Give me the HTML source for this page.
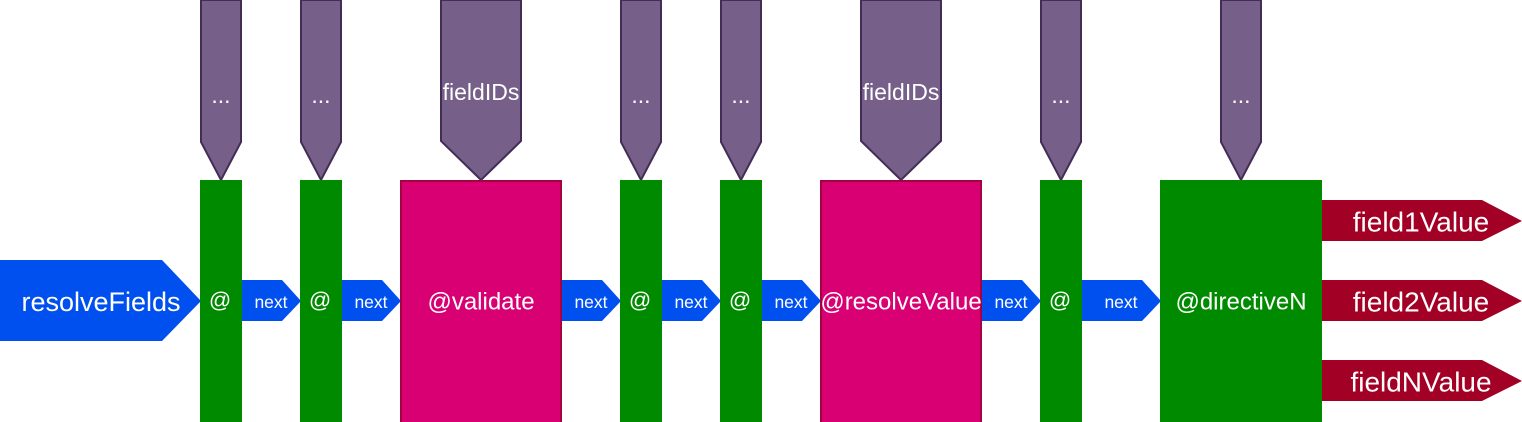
<!DOCTYPE html>
<html><head><style>body{margin:0;background:#fff}svg{display:block}text{font-family:"Liberation Sans",sans-serif;fill:#fff;text-anchor:middle;dominant-baseline:central}</style></head>
<body>
<svg width="1522" height="422" viewBox="0 0 1522 422" xmlns="http://www.w3.org/2000/svg">
<g fill="#76608a" stroke="#432d57" stroke-width="2">
<polygon points="201,0 241,0 241,142 221,180 201,142"/>
<polygon points="301,0 341,0 341,142 321,180 301,142"/>
<polygon points="621,0 661,0 661,142 641,180 621,142"/>
<polygon points="721,0 761,0 761,142 741,180 721,142"/>
<polygon points="1041,0 1081,0 1081,142 1061,180 1041,142"/>
<polygon points="1221,0 1261,0 1261,142 1241,180 1221,142"/>
<polygon points="441,0 521,0 521,141 481,180 441,141"/>
<polygon points="861,0 941,0 941,141 901,180 861,141"/>
</g>
<g font-size="23">
<text x="221" y="95">...</text><text x="321" y="95">...</text><text x="641" y="95">...</text><text x="741" y="95">...</text><text x="1061" y="95">...</text><text x="1241" y="95">...</text>
<text x="481" y="92">fieldIDs</text><text x="901" y="92">fieldIDs</text>
</g>
<g fill="#0050ef">
<polygon points="0,260 162,260 201,301 162,341 0,341"/>
<polygon points="241,280 282,280 301,301 282,321 241,321"/>
<polygon points="341,280 382,280 401,301 382,321 341,321"/>
<polygon points="561,280 602,280 621,301 602,321 561,321"/>
<polygon points="661,280 702,280 721,301 702,321 661,321"/>
<polygon points="761,280 802,280 821,301 802,321 761,321"/>
<polygon points="981,280 1022,280 1041,301 1022,321 981,321"/>
<polygon points="1081,280 1142,280 1161,301 1142,321 1081,321"/>
</g>
<g fill="#008a00">
<rect x="200" y="180" width="42" height="242"/>
<rect x="300" y="180" width="42" height="242"/>
<rect x="620" y="180" width="42" height="242"/>
<rect x="720" y="180" width="42" height="242"/>
<rect x="1040" y="180" width="42" height="242"/>
<rect x="1160" y="180" width="162" height="242"/>
</g>
<g fill="#d80073" stroke="#a50040" stroke-width="2">
<rect x="401" y="181" width="160" height="242"/>
<rect x="821" y="181" width="160" height="242"/>
</g>
<g fill="#a20025">
<polygon points="1322,200 1482,200 1522,221 1482,241 1322,241"/>
<polygon points="1322,280 1482,280 1522,301 1482,321 1322,321"/>
<polygon points="1322,360 1482,360 1522,381 1482,401 1322,401"/>
</g>
<text x="101" y="302" font-size="27">resolveFields</text>
<g font-size="17.5">
<text x="271" y="302">next</text><text x="371" y="302">next</text><text x="591" y="302">next</text><text x="691" y="302">next</text><text x="791" y="302">next</text><text x="1011" y="302">next</text><text x="1121" y="302">next</text>
</g>
<g font-size="22">
<text x="220" y="300">@</text><text x="320" y="300">@</text><text x="640" y="300">@</text><text x="740" y="300">@</text><text x="1060" y="300">@</text>
</g>
<g font-size="24">
<text x="481" y="302">@validate</text><text x="901" y="302">@resolveValue</text><text x="1241" y="302">@directiveN</text>
</g>
<g font-size="28">
<text x="1421" y="222">field1Value</text><text x="1421" y="302">field2Value</text><text x="1421" y="382">fieldNValue</text>
</g>
</svg>
</body></html>
